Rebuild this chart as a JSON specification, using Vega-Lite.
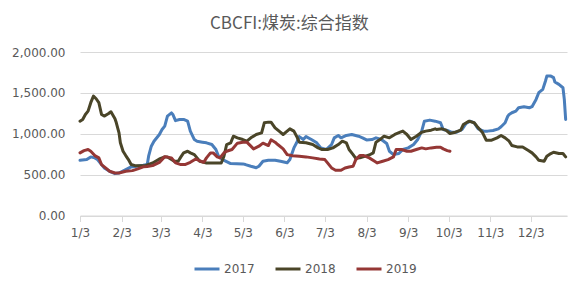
{
"$schema": "https://vega.github.io/schema/vega-lite/v6.json",
"width": 487, "height": 163.5,
"autosize": {"type": "none"},
"padding": {"left": 80, "top": 52, "right": 14, "bottom": 72.5},
"background": "white",
"title": {"text": "CBCFI:煤炭:综合指数", "font": "Noto Sans CJK SC", "fontSize": 17, "fontWeight": "normal", "color": "#595959", "anchor": "middle", "frame": "bounds", "offset": 13},
"data": {"values": [
{"series":"2017","date":"2017-01-03","value":676},{"series":"2017","date":"2017-01-08","value":684},{"series":"2017","date":"2017-01-11","value":717},{"series":"2017","date":"2017-01-14","value":705},{"series":"2017","date":"2017-01-16","value":684},{"series":"2017","date":"2017-01-19","value":623},{"series":"2017","date":"2017-01-21","value":582},{"series":"2017","date":"2017-01-25","value":541},{"series":"2017","date":"2017-01-29","value":512},{"series":"2017","date":"2017-02-01","value":520},{"series":"2017","date":"2017-02-06","value":561},{"series":"2017","date":"2017-02-10","value":594},{"series":"2017","date":"2017-02-14","value":602},{"series":"2017","date":"2017-02-19","value":614},{"series":"2017","date":"2017-02-22","value":623},{"series":"2017","date":"2017-02-23","value":725},{"series":"2017","date":"2017-02-25","value":848},{"series":"2017","date":"2017-02-27","value":909},{"series":"2017","date":"2017-03-02","value":991},{"series":"2017","date":"2017-03-04","value":1052},{"series":"2017","date":"2017-03-06","value":1093},{"series":"2017","date":"2017-03-08","value":1216},{"series":"2017","date":"2017-03-11","value":1255},{"series":"2017","date":"2017-03-12","value":1236},{"series":"2017","date":"2017-03-14","value":1160},{"series":"2017","date":"2017-03-17","value":1175},{"series":"2017","date":"2017-03-20","value":1175},{"series":"2017","date":"2017-03-23","value":1154},{"series":"2017","date":"2017-03-25","value":1032},{"series":"2017","date":"2017-03-28","value":929},{"series":"2017","date":"2017-03-30","value":909},{"series":"2017","date":"2017-04-03","value":897},{"series":"2017","date":"2017-04-06","value":889},{"series":"2017","date":"2017-04-10","value":868},{"series":"2017","date":"2017-04-13","value":807},{"series":"2017","date":"2017-04-15","value":725},{"series":"2017","date":"2017-04-18","value":684},{"series":"2017","date":"2017-04-24","value":635},{"series":"2017","date":"2017-05-03","value":631},{"series":"2017","date":"2017-05-05","value":623},{"series":"2017","date":"2017-05-09","value":602},{"series":"2017","date":"2017-05-13","value":585},{"series":"2017","date":"2017-05-15","value":602},{"series":"2017","date":"2017-05-18","value":664},{"series":"2017","date":"2017-05-22","value":676},{"series":"2017","date":"2017-05-27","value":676},{"series":"2017","date":"2017-05-31","value":664},{"series":"2017","date":"2017-06-05","value":645},{"series":"2017","date":"2017-06-07","value":684},{"series":"2017","date":"2017-06-10","value":827},{"series":"2017","date":"2017-06-12","value":889},{"series":"2017","date":"2017-06-14","value":965},{"series":"2017","date":"2017-06-17","value":929},{"series":"2017","date":"2017-06-19","value":965},{"series":"2017","date":"2017-06-23","value":929},{"series":"2017","date":"2017-06-27","value":889},{"series":"2017","date":"2017-06-30","value":827},{"series":"2017","date":"2017-07-04","value":807},{"series":"2017","date":"2017-07-08","value":868},{"series":"2017","date":"2017-07-10","value":950},{"series":"2017","date":"2017-07-13","value":979},{"series":"2017","date":"2017-07-15","value":950},{"series":"2017","date":"2017-07-19","value":979},{"series":"2017","date":"2017-07-23","value":991},{"series":"2017","date":"2017-07-28","value":970},{"series":"2017","date":"2017-07-31","value":950},{"series":"2017","date":"2017-08-03","value":925},{"series":"2017","date":"2017-08-07","value":929},{"series":"2017","date":"2017-08-10","value":950},{"series":"2017","date":"2017-08-14","value":929},{"series":"2017","date":"2017-08-18","value":880},{"series":"2017","date":"2017-08-20","value":786},{"series":"2017","date":"2017-08-23","value":745},{"series":"2017","date":"2017-08-27","value":758},{"series":"2017","date":"2017-08-30","value":807},{"series":"2017","date":"2017-09-03","value":827},{"series":"2017","date":"2017-09-07","value":868},{"series":"2017","date":"2017-09-10","value":929},{"series":"2017","date":"2017-09-13","value":1032},{"series":"2017","date":"2017-09-15","value":1154},{"series":"2017","date":"2017-09-19","value":1167},{"series":"2017","date":"2017-09-23","value":1154},{"series":"2017","date":"2017-09-27","value":1134},{"series":"2017","date":"2017-09-29","value":1052},{"series":"2017","date":"2017-10-02","value":1040},{"series":"2017","date":"2017-10-05","value":1019},{"series":"2017","date":"2017-10-09","value":1019},{"series":"2017","date":"2017-10-13","value":1052},{"series":"2017","date":"2017-10-16","value":1126},{"series":"2017","date":"2017-10-19","value":1154},{"series":"2017","date":"2017-10-22","value":1134},{"series":"2017","date":"2017-10-25","value":1060},{"series":"2017","date":"2017-10-29","value":1032},{"series":"2017","date":"2017-11-01","value":1032},{"series":"2017","date":"2017-11-05","value":1040},{"series":"2017","date":"2017-11-09","value":1060},{"series":"2017","date":"2017-11-11","value":1085},{"series":"2017","date":"2017-11-14","value":1134},{"series":"2017","date":"2017-11-16","value":1216},{"series":"2017","date":"2017-11-17","value":1236},{"series":"2017","date":"2017-11-19","value":1257},{"series":"2017","date":"2017-11-22","value":1277},{"series":"2017","date":"2017-11-24","value":1318},{"series":"2017","date":"2017-11-28","value":1331},{"series":"2017","date":"2017-12-02","value":1318},{"series":"2017","date":"2017-12-04","value":1331},{"series":"2017","date":"2017-12-07","value":1420},{"series":"2017","date":"2017-12-09","value":1502},{"series":"2017","date":"2017-12-12","value":1543},{"series":"2017","date":"2017-12-14","value":1645},{"series":"2017","date":"2017-12-15","value":1705},{"series":"2017","date":"2017-12-18","value":1705},{"series":"2017","date":"2017-12-20","value":1686},{"series":"2017","date":"2017-12-21","value":1633},{"series":"2017","date":"2017-12-24","value":1604},{"series":"2017","date":"2017-12-27","value":1563},{"series":"2017","date":"2017-12-28","value":1420},{"series":"2017","date":"2017-12-29","value":1175},
{"series":"2018","date":"2018-01-03","value":1154},{"series":"2018","date":"2018-01-05","value":1175},{"series":"2018","date":"2018-01-07","value":1236},{"series":"2018","date":"2018-01-09","value":1277},{"series":"2018","date":"2018-01-11","value":1380},{"series":"2018","date":"2018-01-13","value":1460},{"series":"2018","date":"2018-01-15","value":1428},{"series":"2018","date":"2018-01-17","value":1380},{"series":"2018","date":"2018-01-19","value":1236},{"series":"2018","date":"2018-01-21","value":1216},{"series":"2018","date":"2018-01-24","value":1244},{"series":"2018","date":"2018-01-26","value":1269},{"series":"2018","date":"2018-01-29","value":1183},{"series":"2018","date":"2018-01-30","value":1134},{"series":"2018","date":"2018-02-01","value":1011},{"series":"2018","date":"2018-02-02","value":889},{"series":"2018","date":"2018-02-04","value":786},{"series":"2018","date":"2018-02-06","value":733},{"series":"2018","date":"2018-02-08","value":684},{"series":"2018","date":"2018-02-10","value":623},{"series":"2018","date":"2018-02-13","value":610},{"series":"2018","date":"2018-02-17","value":610},{"series":"2018","date":"2018-02-21","value":612},{"series":"2018","date":"2018-02-26","value":643},{"series":"2018","date":"2018-03-02","value":692},{"series":"2018","date":"2018-03-06","value":717},{"series":"2018","date":"2018-03-08","value":717},{"series":"2018","date":"2018-03-11","value":684},{"series":"2018","date":"2018-03-13","value":664},{"series":"2018","date":"2018-03-16","value":664},{"series":"2018","date":"2018-03-18","value":717},{"series":"2018","date":"2018-03-20","value":766},{"series":"2018","date":"2018-03-23","value":786},{"series":"2018","date":"2018-03-25","value":766},{"series":"2018","date":"2018-03-28","value":745},{"series":"2018","date":"2018-03-30","value":705},{"series":"2018","date":"2018-04-01","value":664},{"series":"2018","date":"2018-04-04","value":651},{"series":"2018","date":"2018-04-06","value":643},{"series":"2018","date":"2018-04-14","value":643},{"series":"2018","date":"2018-04-17","value":643},{"series":"2018","date":"2018-04-19","value":725},{"series":"2018","date":"2018-04-21","value":868},{"series":"2018","date":"2018-04-24","value":889},{"series":"2018","date":"2018-04-26","value":970},{"series":"2018","date":"2018-04-29","value":950},{"series":"2018","date":"2018-05-03","value":929},{"series":"2018","date":"2018-05-06","value":909},{"series":"2018","date":"2018-05-09","value":950},{"series":"2018","date":"2018-05-13","value":991},{"series":"2018","date":"2018-05-17","value":1011},{"series":"2018","date":"2018-05-19","value":1134},{"series":"2018","date":"2018-05-22","value":1142},{"series":"2018","date":"2018-05-24","value":1142},{"series":"2018","date":"2018-05-27","value":1073},{"series":"2018","date":"2018-05-30","value":1032},{"series":"2018","date":"2018-06-02","value":991},{"series":"2018","date":"2018-06-05","value":1032},{"series":"2018","date":"2018-06-07","value":1060},{"series":"2018","date":"2018-06-10","value":1032},{"series":"2018","date":"2018-06-12","value":970},{"series":"2018","date":"2018-06-14","value":897},{"series":"2018","date":"2018-06-19","value":889},{"series":"2018","date":"2018-06-24","value":868},{"series":"2018","date":"2018-06-28","value":827},{"series":"2018","date":"2018-07-01","value":807},{"series":"2018","date":"2018-07-05","value":807},{"series":"2018","date":"2018-07-09","value":827},{"series":"2018","date":"2018-07-13","value":868},{"series":"2018","date":"2018-07-16","value":909},{"series":"2018","date":"2018-07-19","value":889},{"series":"2018","date":"2018-07-21","value":807},{"series":"2018","date":"2018-07-24","value":745},{"series":"2018","date":"2018-07-26","value":700},{"series":"2018","date":"2018-07-29","value":705},{"series":"2018","date":"2018-08-01","value":720},{"series":"2018","date":"2018-08-05","value":740},{"series":"2018","date":"2018-08-08","value":766},{"series":"2018","date":"2018-08-10","value":897},{"series":"2018","date":"2018-08-13","value":929},{"series":"2018","date":"2018-08-16","value":970},{"series":"2018","date":"2018-08-20","value":950},{"series":"2018","date":"2018-08-24","value":991},{"series":"2018","date":"2018-08-28","value":1019},{"series":"2018","date":"2018-08-30","value":1032},{"series":"2018","date":"2018-09-02","value":991},{"series":"2018","date":"2018-09-05","value":929},{"series":"2018","date":"2018-09-09","value":970},{"series":"2018","date":"2018-09-13","value":1019},{"series":"2018","date":"2018-09-16","value":1032},{"series":"2018","date":"2018-09-20","value":1044},{"series":"2018","date":"2018-09-23","value":1060},{"series":"2018","date":"2018-09-24","value":1052},{"series":"2018","date":"2018-09-28","value":1060},{"series":"2018","date":"2018-10-01","value":1044},{"series":"2018","date":"2018-10-04","value":1003},{"series":"2018","date":"2018-10-08","value":1019},{"series":"2018","date":"2018-10-12","value":1044},{"series":"2018","date":"2018-10-14","value":1113},{"series":"2018","date":"2018-10-18","value":1154},{"series":"2018","date":"2018-10-22","value":1134},{"series":"2018","date":"2018-10-24","value":1093},{"series":"2018","date":"2018-10-28","value":1019},{"series":"2018","date":"2018-10-31","value":921},{"series":"2018","date":"2018-11-04","value":921},{"series":"2018","date":"2018-11-08","value":950},{"series":"2018","date":"2018-11-11","value":979},{"series":"2018","date":"2018-11-14","value":950},{"series":"2018","date":"2018-11-17","value":909},{"series":"2018","date":"2018-11-19","value":856},{"series":"2018","date":"2018-11-23","value":839},{"series":"2018","date":"2018-11-27","value":839},{"series":"2018","date":"2018-12-01","value":798},{"series":"2018","date":"2018-12-04","value":766},{"series":"2018","date":"2018-12-07","value":717},{"series":"2018","date":"2018-12-09","value":676},{"series":"2018","date":"2018-12-13","value":664},{"series":"2018","date":"2018-12-15","value":725},{"series":"2018","date":"2018-12-18","value":758},{"series":"2018","date":"2018-12-20","value":774},{"series":"2018","date":"2018-12-24","value":758},{"series":"2018","date":"2018-12-27","value":758},{"series":"2018","date":"2018-12-29","value":717},
{"series":"2019","date":"2019-01-03","value":766},{"series":"2019","date":"2019-01-06","value":794},{"series":"2019","date":"2019-01-09","value":807},{"series":"2019","date":"2019-01-11","value":786},{"series":"2019","date":"2019-01-14","value":733},{"series":"2019","date":"2019-01-17","value":705},{"series":"2019","date":"2019-01-19","value":623},{"series":"2019","date":"2019-01-22","value":582},{"series":"2019","date":"2019-01-25","value":541},{"series":"2019","date":"2019-01-29","value":520},{"series":"2019","date":"2019-02-01","value":520},{"series":"2019","date":"2019-02-06","value":541},{"series":"2019","date":"2019-02-11","value":549},{"series":"2019","date":"2019-02-15","value":570},{"series":"2019","date":"2019-02-19","value":595},{"series":"2019","date":"2019-02-22","value":600},{"series":"2019","date":"2019-02-26","value":610},{"series":"2019","date":"2019-03-02","value":650},{"series":"2019","date":"2019-03-06","value":720},{"series":"2019","date":"2019-03-11","value":705},{"series":"2019","date":"2019-03-14","value":643},{"series":"2019","date":"2019-03-18","value":623},{"series":"2019","date":"2019-03-21","value":623},{"series":"2019","date":"2019-03-25","value":651},{"series":"2019","date":"2019-03-29","value":692},{"series":"2019","date":"2019-03-31","value":676},{"series":"2019","date":"2019-04-04","value":651},{"series":"2019","date":"2019-04-06","value":705},{"series":"2019","date":"2019-04-09","value":766},{"series":"2019","date":"2019-04-11","value":766},{"series":"2019","date":"2019-04-14","value":717},{"series":"2019","date":"2019-04-16","value":705},{"series":"2019","date":"2019-04-19","value":766},{"series":"2019","date":"2019-04-21","value":786},{"series":"2019","date":"2019-04-25","value":807},{"series":"2019","date":"2019-04-29","value":885},{"series":"2019","date":"2019-05-03","value":897},{"series":"2019","date":"2019-05-06","value":897},{"series":"2019","date":"2019-05-09","value":848},{"series":"2019","date":"2019-05-11","value":815},{"series":"2019","date":"2019-05-15","value":848},{"series":"2019","date":"2019-05-18","value":885},{"series":"2019","date":"2019-05-22","value":856},{"series":"2019","date":"2019-05-24","value":926},{"series":"2019","date":"2019-05-27","value":897},{"series":"2019","date":"2019-05-29","value":868},{"series":"2019","date":"2019-06-02","value":815},{"series":"2019","date":"2019-06-05","value":745},{"series":"2019","date":"2019-06-09","value":730},{"series":"2019","date":"2019-06-14","value":725},{"series":"2019","date":"2019-06-19","value":717},{"series":"2019","date":"2019-06-24","value":705},{"series":"2019","date":"2019-06-29","value":692},{"series":"2019","date":"2019-07-03","value":684},{"series":"2019","date":"2019-07-05","value":643},{"series":"2019","date":"2019-07-08","value":582},{"series":"2019","date":"2019-07-11","value":553},{"series":"2019","date":"2019-07-15","value":553},{"series":"2019","date":"2019-07-18","value":582},{"series":"2019","date":"2019-07-21","value":594},{"series":"2019","date":"2019-07-24","value":602},{"series":"2019","date":"2019-07-26","value":684},{"series":"2019","date":"2019-07-29","value":733},{"series":"2019","date":"2019-08-01","value":733},{"series":"2019","date":"2019-08-05","value":705},{"series":"2019","date":"2019-08-09","value":664},{"series":"2019","date":"2019-08-11","value":643},{"series":"2019","date":"2019-08-15","value":664},{"series":"2019","date":"2019-08-19","value":684},{"series":"2019","date":"2019-08-23","value":717},{"series":"2019","date":"2019-08-25","value":807},{"series":"2019","date":"2019-08-29","value":807},{"series":"2019","date":"2019-09-02","value":786},{"series":"2019","date":"2019-09-05","value":786},{"series":"2019","date":"2019-09-09","value":807},{"series":"2019","date":"2019-09-13","value":827},{"series":"2019","date":"2019-09-16","value":815},{"series":"2019","date":"2019-09-20","value":827},{"series":"2019","date":"2019-09-24","value":835},{"series":"2019","date":"2019-09-27","value":835},{"series":"2019","date":"2019-09-29","value":815},{"series":"2019","date":"2019-10-02","value":794},{"series":"2019","date":"2019-10-04","value":786}
]},
"mark": {"type": "line", "strokeWidth": 3, "strokeJoin": "round", "strokeCap": "round"},
"encoding": {
"x": {"field": "date", "type": "temporal", "timeUnit": {"unit": "monthdate", "utc": true},
 "scale": {"domain": [{"year":2012,"month":1,"date":3,"utc":true},{"year":2012,"month":12,"date":30,"utc":true}], "nice": false},
 "axis": {"title": null, "grid": false, "values": [{"year":2012,"month":1,"date":3,"utc":true},{"year":2012,"month":2,"date":3,"utc":true},{"year":2012,"month":3,"date":3,"utc":true},{"year":2012,"month":4,"date":3,"utc":true},{"year":2012,"month":5,"date":3,"utc":true},{"year":2012,"month":6,"date":3,"utc":true},{"year":2012,"month":7,"date":3,"utc":true},{"year":2012,"month":8,"date":3,"utc":true},{"year":2012,"month":9,"date":3,"utc":true},{"year":2012,"month":10,"date":3,"utc":true},{"year":2012,"month":11,"date":3,"utc":true},{"year":2012,"month":12,"date":3,"utc":true}],
  "labelExpr": "utcFormat(datum.value, '%-m/%-d')", "labelOverlap": false, "labelFlush": false, "domainColor": "#d9d9d9", "tickColor": "#d9d9d9", "tickSize": 6, "labelPadding": 6, "labelFont": "DejaVu Sans", "labelFontSize": 12, "labelColor": "#595959"}},
"y": {"field": "value", "type": "quantitative", "scale": {"domain": [0, 2000], "nice": false},
 "axis": {"title": null, "values": [0, 500, 1000, 1500, 2000], "format": ",.2f", "domain": false, "ticks": false, "gridColor": "#d9d9d9", "labelPadding": 15, "labelFont": "DejaVu Sans", "labelFontSize": 12, "labelColor": "#595959"}},
"color": {"field": "series", "type": "nominal", "scale": {"domain": ["2017", "2018", "2019"], "range": ["#4a7ebb", "#4a4528", "#953735"]},
 "legend": {"title": null, "orient": "none", "legendX": 113, "legendY": 203, "direction": "horizontal", "symbolType": "stroke", "symbolSize": 625, "symbolStrokeWidth": 3, "labelFont": "DejaVu Sans", "labelFontSize": 12, "labelColor": "#595959", "columnPadding": 14, "labelOffset": 3, "padding": 0}}
},
"config": {"view": {"stroke": null}}
}
